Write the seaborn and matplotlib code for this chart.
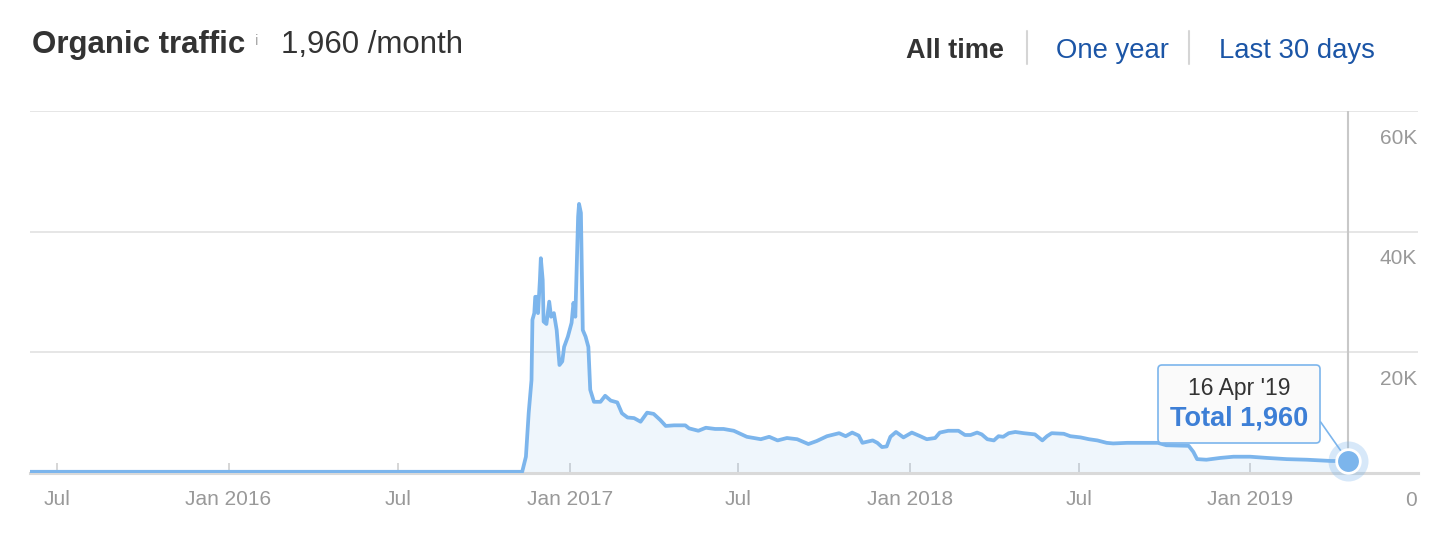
# ============================================
# Organic traffic (all time) - area chart
# ============================================
import pandas as pd
import matplotlib.pyplot as plt
import matplotlib.transforms as mtransforms
from matplotlib.lines import Line2D
from matplotlib.offsetbox import TextArea, VPacker, AnnotationBbox
import seaborn as sns

# --------------------------------------------
# Data
# --------------------------------------------
fechas = [
    "2015-06-02", "2016-11-11", "2016-11-15", "2016-11-18", "2016-11-21",
    "2016-11-22", "2016-11-24", "2016-11-25", "2016-11-27", "2016-11-28",
    "2016-11-30", "2016-12-01", "2016-12-03", "2016-12-04", "2016-12-07",
    "2016-12-10", "2016-12-12", "2016-12-15", "2016-12-18", "2016-12-21",
    "2016-12-24", "2016-12-26", "2016-12-30", "2017-01-03", "2017-01-05",
    "2017-01-07", "2017-01-10", "2017-01-11", "2017-01-13", "2017-01-15",
    "2017-01-18", "2017-01-21", "2017-01-23", "2017-01-27", "2017-02-03",
    "2017-02-08", "2017-02-14", "2017-02-21", "2017-02-26", "2017-03-04",
    "2017-03-11", "2017-03-18", "2017-03-25", "2017-04-01", "2017-04-08",
    "2017-04-14", "2017-04-23", "2017-05-05", "2017-05-09", "2017-05-19",
    "2017-05-27", "2017-06-06", "2017-06-15", "2017-06-26", "2017-07-10",
    "2017-07-25", "2017-08-03", "2017-08-12", "2017-08-22", "2017-09-02",
    "2017-09-14", "2017-09-23", "2017-10-04", "2017-10-17", "2017-10-24",
    "2017-10-31", "2017-11-07", "2017-11-11", "2017-11-22", "2017-11-27",
    "2017-12-02", "2017-12-07", "2017-12-11", "2017-12-17", "2017-12-25",
    "2018-01-03", "2018-01-12", "2018-01-19", "2018-01-28", "2018-02-02",
    "2018-02-11", "2018-02-22", "2018-03-01", "2018-03-07", "2018-03-14",
    "2018-03-19", "2018-03-25", "2018-04-01", "2018-04-06", "2018-04-11",
    "2018-04-17", "2018-04-24", "2018-05-03", "2018-05-15", "2018-05-23",
    "2018-05-28", "2018-06-02", "2018-06-15", "2018-06-22", "2018-07-03",
    "2018-07-12", "2018-07-21", "2018-07-31", "2018-08-07", "2018-08-22",
    "2018-09-08", "2018-09-24", "2018-10-03", "2018-10-27", "2018-11-01",
    "2018-11-05", "2018-11-15", "2018-11-30", "2018-12-14", "2019-01-01",
    "2019-01-19", "2019-02-09", "2019-03-03", "2019-03-28", "2019-04-16",
]
visitas = [
    200, 200, 2700, 10000, 15400,
    25400, 26500, 29200, 29200, 26500,
    32000, 35600, 32000, 25100, 24700,
    28400, 25900, 26500, 23700, 17900,
    18500, 20900, 22600, 24900, 28200,
    25900, 42500, 44600, 43100, 23700,
    22600, 20900, 13800, 11800, 11800,
    12800, 12000, 11700, 9900, 9200,
    9100, 8500, 10000, 9800, 8800,
    7800, 7900, 7900, 7400, 7000,
    7500, 7300, 7300, 7000, 6000,
    5600, 6000, 5400, 5800, 5600,
    4800, 5300, 6100, 6600, 6100,
    6700, 6200, 5000, 5400, 5000,
    4300, 4400, 6000, 6800, 5900,
    6700, 6100, 5600, 5800, 6700,
    7000, 7000, 6300, 6300, 6700,
    6400, 5600, 5400, 6100, 6000,
    6600, 6800, 6600, 6400, 5400,
    6100, 6600, 6500, 6100, 5900,
    5600, 5400, 5000, 4900, 5000,
    5000, 5000, 4600, 4500, 3500,
    2300, 2200, 2500, 2700, 2700,
    2500, 2300, 2200, 2000, 1960,
]

ticks_x = ["2015-07-01", "2016-01-01", "2016-07-01", "2017-01-01",
           "2017-07-01", "2018-01-01", "2018-07-01", "2019-01-01"]
etiquetas_x = ["Jul", "Jan 2016", "Jul", "Jan 2017",
               "Jul", "Jan 2018", "Jul", "Jan 2019"]
ticks_y = [0, 20000, 40000, 60000]
etiquetas_y = ["0", "20K", "40K", "60K"]
periodos = ["All time", "One year", "Last 30 days"]

# --------------------------------------------
# Style
# --------------------------------------------
AZUL = "#7cb5ec"
GRIS_TXT = "#999999"
OSCURO = "#333333"

sns.set_theme(style="white")
plt.rcParams["font.family"] = ["Liberation Sans", "DejaVu Sans"]

df = pd.DataFrame({"fecha": pd.to_datetime(fechas), "visitas": visitas})
ultimo = df.iloc[-1]

fig = plt.figure(figsize=(14.42, 5.36), dpi=100)
ax = fig.add_axes([30 / 1442, 63 / 536, 1388 / 1442, 362 / 536])

# --------------------------------------------
# Area + line
# --------------------------------------------
ax.axvline(ultimo["fecha"], color="#c8c8c8", linewidth=1.5, zorder=1)
ax.fill_between(df["fecha"], df["visitas"], 0, color=AZUL, alpha=0.12,
                linewidth=0, zorder=2)
sns.lineplot(data=df, x="fecha", y="visitas", ax=ax, color=AZUL,
             linewidth=2.7, zorder=3, solid_joinstyle="round",
             solid_capstyle="round")

# highlighted last point
ax.scatter([ultimo["fecha"]], [ultimo["visitas"]], s=830, color=AZUL,
           alpha=0.3, linewidth=0, zorder=4, clip_on=False)
ax.scatter([ultimo["fecha"]], [ultimo["visitas"]], s=290, color=AZUL,
           edgecolor="white", linewidth=2, zorder=5, clip_on=False)

# --------------------------------------------
# Axes
# --------------------------------------------
ax.set_xlim(pd.Timestamp("2015-06-02"), pd.Timestamp("2019-06-30"))
ax.set_ylim(0, 60000)
ax.set_xlabel("")
ax.set_ylabel("")

ax.set_xticks(pd.to_datetime(ticks_x))
ax.set_xticklabels(etiquetas_x)
ax.tick_params(axis="x", bottom=True, direction="in", length=7.5, width=1.4,
               color="#d6d6d6", pad=12.5, labelsize=15, labelcolor=GRIS_TXT)

ax.set_yticks(ticks_y)
ax.set_yticklabels(etiquetas_y)
ax.yaxis.tick_right()
ax.tick_params(axis="y", right=False, length=0, pad=0, labelsize=15,
               labelcolor=GRIS_TXT)
desplaza = mtransforms.ScaledTranslation(-1 / 100, -25 / 100, fig.dpi_scale_trans)
for lab in ax.get_yticklabels():
    lab.set_horizontalalignment("right")
    lab.set_transform(lab.get_transform() + desplaza)

ax.grid(axis="y", color="#e6e6e6", linewidth=1.4)
ax.grid(axis="x", visible=False)
ax.set_axisbelow(True)
for lado in ["top", "left", "right"]:
    ax.spines[lado].set_visible(False)
ax.spines["bottom"].set_color("#d9d9d9")
ax.spines["bottom"].set_linewidth(2.2)

# --------------------------------------------
# Tooltip
# --------------------------------------------
f = ultimo["fecha"]
txt_fecha = TextArea(f"{f.day} {f:%b} '{f:%y}",
                     textprops=dict(fontsize=16.5, color=OSCURO))
txt_total = TextArea(f"Total {int(ultimo['visitas']):,}",
                     textprops=dict(fontsize=19.5, fontweight="bold", color="#3d7fd6"))
caja = VPacker(children=[txt_fecha, txt_total], align="center", pad=0, sep=4)
tooltip = AnnotationBbox(
    caja, (f, ultimo["visitas"]), xybox=(-78.5, 41), boxcoords="offset points",
    fontsize=10, frameon=True,
    bboxprops=dict(boxstyle="round,pad=0.85,rounding_size=0.3",
                   edgecolor=AZUL, facecolor="#fafafa", linewidth=1.2),
    arrowprops=dict(arrowstyle="-", color=AZUL, linewidth=1.2,
                    relpos=(1, 0.5), shrinkA=0, shrinkB=0),
    zorder=3.5,
)
ax.add_artist(tooltip)

# --------------------------------------------
# Header
# --------------------------------------------
fig.text(32 / 1442, 1 - 53 / 536, "Organic traffic", fontsize=22.5,
         fontweight="bold", color=OSCURO)
fig.text(255 / 1442, 1 - 45 / 536, "i", fontsize=11, color="#aaaaaa")
fig.text(281 / 1442, 1 - 53 / 536, f"{visitas[-1]:,} /month", fontsize=22.5,
         color=OSCURO)

fig.text(906 / 1442, 1 - 58 / 536, periodos[0], fontsize=19.5,
         fontweight="bold", color=OSCURO)
fig.text(1056 / 1442, 1 - 58 / 536, periodos[1], fontsize=19.8, color="#1b55a6")
fig.text(1219 / 1442, 1 - 58 / 536, periodos[2], fontsize=19.8, color="#1b55a6")
for xs in [1027, 1189]:
    fig.add_artist(Line2D([xs / 1442, xs / 1442], [1 - 31 / 536, 1 - 64 / 536],
                          color="#d5d5d5", linewidth=1.5))

fig.savefig("out.png", dpi=100)
